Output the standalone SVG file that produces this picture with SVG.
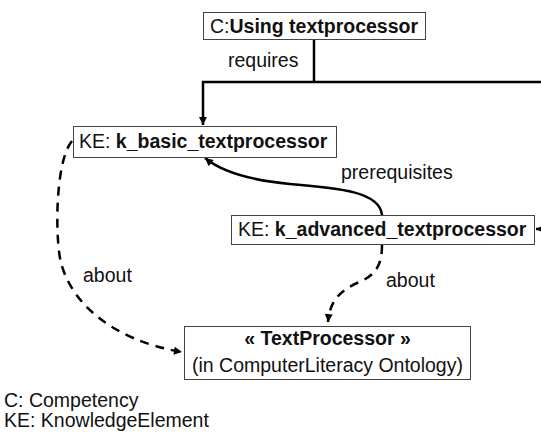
<svg xmlns="http://www.w3.org/2000/svg" width="541" height="432" viewBox="0 0 541 432">
<style>
text{font-family:"Liberation Sans",Arial,sans-serif;font-size:19.5px;fill:#111}
.b{font-weight:bold}
.box{fill:#fff;stroke:#444;stroke-width:1}
.c{fill:none;stroke:#000;stroke-width:2.5}
.d{fill:none;stroke:#000;stroke-width:2.5;stroke-dasharray:9,7}
</style>
<defs>
<marker id="ah" viewBox="0 0 10 10" refX="10" refY="5" markerWidth="9" markerHeight="8" markerUnits="userSpaceOnUse" orient="auto">
<path d="M0,0 L10,5 L0,10 z" fill="#000"/>
</marker>
</defs>
<rect width="541" height="432" fill="#fff"/>
<g id="connectors">
<path class="c" d="M314,39 V82 M541,82 H203 V125" marker-end="url(#ah)"/>
<path class="c" d="M541,229 H536" marker-end="url(#ah)"/>
<path class="c" d="M382,215 C380,192 340,188 290,184 C248,180 222,172 205,158" marker-end="url(#ah)"/>
<path class="d" d="M382,245 C382,262 378,275 357,283 C338,292 330,302 328,322" marker-end="url(#ah)"/>
<path class="d" d="M72,141 C56,160 55,230 60,258 C68,300 110,340 182,352" marker-end="url(#ah)"/>
<text x="228" y="67">requires</text>
<text x="341" y="179">prerequisites</text>
<text x="386" y="287">about</text>
<text x="83" y="282">about</text>
</g>
<g id="c_using">
<rect class="box" x="203.5" y="12.5" width="222" height="27"/>
<text x="210" y="33">C:<tspan class="b">Using textprocessor</tspan></text>
</g>
<g id="ke_basic">
<rect class="box" x="73.5" y="126.5" width="263" height="31"/>
<text x="79" y="148">KE: <tspan class="b">k_basic_textprocessor</tspan></text>
</g>
<g id="ke_advanced">
<rect class="box" x="231.5" y="215.5" width="303" height="29"/>
<text x="238" y="236">KE: <tspan class="b">k_advanced_textprocessor</tspan></text>
</g>
<g id="textprocessor">
<rect class="box" x="184.5" y="326.5" width="286" height="53"/>
<text class="b" x="327.5" y="345" text-anchor="middle">« TextProcessor »</text>
<text x="327.5" y="372" text-anchor="middle">(in ComputerLiteracy Ontology)</text>
</g>
<g id="legend">
<text x="4" y="407">C: Competency</text>
<text x="4" y="427">KE: KnowledgeElement</text>
</g>
</svg>
